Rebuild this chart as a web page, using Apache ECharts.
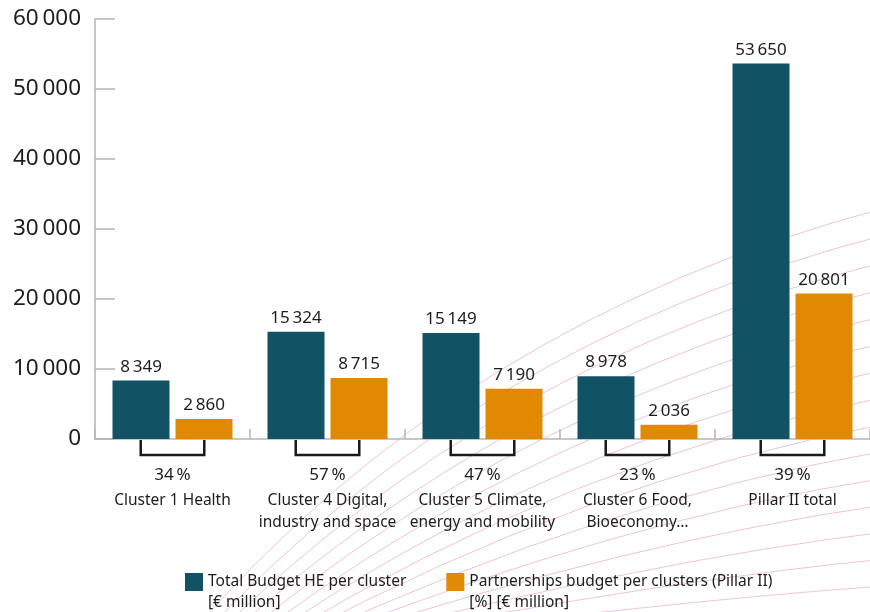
<!DOCTYPE html>
<html>
<head>
<meta charset="utf-8">
<script src="https://cdn.jsdelivr.net/npm/echarts@6/dist/echarts.min.js"></script>
<style>
html,body{margin:0;padding:0;background:#fff;}
#chart{width:870px;height:612px;}
</style>
</head>
<body>
<div id="chart"></div>
<script>
// ---- data ----
const categories = [
  'Cluster 1 Health',
  'Cluster 4 Digital,\nindustry and space',
  'Cluster 5 Climate,\nenergy and mobility',
  'Cluster 6 Food,\nBioeconomy…',
  'Pillar II total'
];
const totalBudget = [8349, 15324, 15149, 8978, 53650];
const partnershipBudget = [2860, 8715, 7190, 2036, 20801];
const sharePct = [34, 57, 47, 23, 39];
const yTicks = [0, 10000, 20000, 30000, 40000, 50000, 60000];
const seriesNames = [
  'Total Budget HE per cluster\n[€ million]',
  'Partnerships budget per clusters (Pillar II)\n[%] [€ million]'
];

// ---- styling ----
const TEAL = '#115365';
const ORANGE = '#e28904';
const TXT = '#1d1d1b';
const FONT = 'Noto Sans';
const fmt = v => String(v).replace(/\B(?=(\d{3})+(?!\d))/g, '\u2009');

// decorative background curves
const deco = [];
for (let i = 0; i < 32; i++) {
  deco.push({
    type: 'bezierCurve',
    silent: true,
    z: -10,
    shape: {
      x1: 185 + 13 * i, y1: 640,
      cpx1: 460 + 16 * i, cpy1: 320 + 20 * i,
      x2: 885, y2: 208 + 27 * i
    },
    style: { stroke: '#ecc6d1', lineWidth: 1, fill: null }
  });
}

const chart = echarts.init(document.getElementById('chart'), null, { renderer: 'canvas' });
chart.setOption({
  animation: false,
  backgroundColor: '#fff',
  textStyle: { fontFamily: FONT, color: TXT },
  graphic: deco,
  grid: { left: 95, top: 19, width: 780, height: 420, containLabel: false },
  legend: {
    data: seriesNames,
    left: 180,
    top: 545.5,
    itemWidth: 18,
    itemHeight: 18,
    itemGap: 40,
    icon: 'rect',
    selectedMode: false,
    formatter: name => ' \n' + name,
    textStyle: { fontFamily: FONT, fontSize: 15.5, color: TXT, lineHeight: 21 }
  },
  xAxis: {
    type: 'category',
    data: categories,
    axisLine: { lineStyle: { color: '#b5b5b5', width: 1.5 } },
    axisTick: { show: true, inside: true, length: 10, lineStyle: { color: '#b5b5b5', width: 1.5 } },
    axisLabel: {
      interval: 0,
      margin: 21,
      formatter: (val, idx) => {
        const lines = val.split('\n').map(l => '{c|' + l + '}').join('\n');
        return '{p|' + sharePct[idx] + '\u2009%}\n' + lines;
      },
      rich: {
        p: { fontFamily: FONT, fontSize: 17, lineHeight: 30, color: TXT },
        c: { fontFamily: FONT, fontSize: 15.5, lineHeight: 22, color: TXT }
      }
    }
  },
  yAxis: {
    type: 'value',
    min: yTicks[0],
    max: yTicks[yTicks.length - 1],
    interval: 10000,
    splitLine: { show: false },
    axisLine: { show: true, lineStyle: { color: '#b5b5b5', width: 1.5 } },
    axisTick: { show: true, inside: true, length: 20, lineStyle: { color: '#b5b5b5', width: 1.5 } },
    axisLabel: { margin: 14, fontSize: 22.5, color: TXT, fontFamily: FONT, formatter: v => fmt(v) }
  },
  series: [
    {
      name: seriesNames[0],
      type: 'bar',
      data: totalBudget,
      barWidth: 57,
      barGap: '10.5%',
      itemStyle: { color: TEAL },
      label: { show: true, position: 'top', distance: 5, fontSize: 17, color: TXT, fontFamily: FONT, formatter: p => fmt(p.value) }
    },
    {
      name: seriesNames[1],
      type: 'bar',
      data: partnershipBudget,
      barWidth: 57,
      barGap: '10.5%',
      itemStyle: { color: ORANGE },
      label: { show: true, position: 'top', distance: 5, fontSize: 17, color: TXT, fontFamily: FONT, formatter: p => fmt(p.value) }
    },
    {
      name: 'brackets',
      type: 'custom',
      silent: true,
      clip: false,
      data: categories.map((c, i) => [i, 0]),
      encode: { x: 0, y: 1 },
      renderItem: (params, api) => {
        const base = api.coord([api.value(0), 0]);
        const band = api.size([1, 0])[0];
        const off = band * 0.205;
        const y0 = base[1] + 1;
        return {
          type: 'polyline',
          shape: { points: [[base[0] - off, y0], [base[0] - off, y0 + 15], [base[0] + off, y0 + 15], [base[0] + off, y0]] },
          style: { stroke: '#1a1a1a', lineWidth: 2.5, fill: null }
        };
      }
    }
  ]
});
</script>
</body>
</html>
